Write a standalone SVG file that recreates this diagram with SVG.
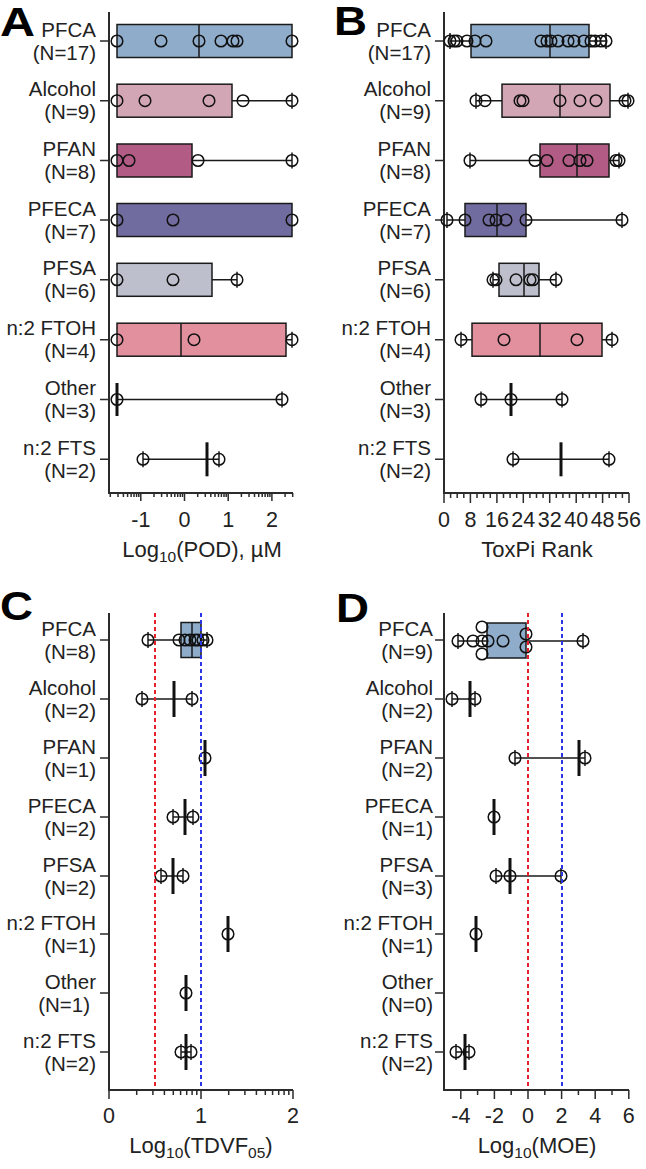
<svg xmlns="http://www.w3.org/2000/svg" width="646" height="1169" viewBox="0 0 646 1169">
<style>
.ax{stroke:#2b2b2b;stroke-width:2;fill:none}
.tk{stroke:#2b2b2b;stroke-width:1.5;fill:none}
.bx{stroke:#1a1a1a;stroke-width:1.5}
.md{stroke:#1a1a1a;stroke-width:1.5;fill:none}
.mt{stroke:#111;stroke-width:3;fill:none}
.wh{stroke:#1a1a1a;stroke-width:1.5;fill:none}
.pt circle{fill:none;stroke:#111;stroke-width:1.5}
text{font-family:"Liberation Sans",Arial,sans-serif;fill:#222}
.lb{font-size:20.5px;text-anchor:end}
.tl{font-size:21.5px;text-anchor:middle}
.tt{font-size:22px;text-anchor:middle}
.sb{font-size:15.5px}
.pl{font-size:40px;font-weight:bold;fill:#000}
.rd{stroke:#e8202a;stroke-width:2;stroke-dasharray:4 3;fill:none}
.bl{stroke:#2a35e6;stroke-width:2;stroke-dasharray:4 3;fill:none}
.c1{fill:#8fadcb}.c2{fill:#d3a6b5}.c3{fill:#b15b85}.c4{fill:#716c9f}.c5{fill:#bdc0cc}.c6{fill:#e2909e}
</style>

<!-- ================= PANEL A ================= -->
<g id="panelA">
<text class="pl" x="0" y="36" textLength="35" lengthAdjust="spacingAndGlyphs">A</text>
<g id="A-labels" class="lb">
<text x="96" y="36.5">PFCA<tspan x="96" dy="23">(N=17)</tspan></text>
<text x="96" y="96.2">Alcohol<tspan x="96" dy="23">(N=9)</tspan></text>
<text x="96" y="156">PFAN<tspan x="96" dy="23">(N=8)</tspan></text>
<text x="96" y="215.5">PFECA<tspan x="96" dy="23">(N=7)</tspan></text>
<text x="96" y="275.3">PFSA<tspan x="96" dy="23">(N=6)</tspan></text>
<text x="96" y="335.2">n:2 FTOH<tspan x="96" dy="23">(N=4)</tspan></text>
<text x="96" y="395">Other<tspan x="96" dy="23">(N=3)</tspan></text>
<text x="96" y="454.8">n:2 FTS<tspan x="96" dy="23">(N=2)</tspan></text>
</g>
<g id="A-axes">
<path class="ax" d="M109,12V493H293"/>
<path class="tk" d="M100,41H109M100,100.7H109M100,160.5H109M100,220H109M100,279.8H109M100,339.7H109M100,399.5H109M100,459.3H109"/>
<path class="tk" d="M140.8,493v8M184.5,493v8M228.2,493v8M271.9,493v8"/>
<path class="tk" d="M110.3,493v4M118,493v4M123.4,493v4M127.6,493v4M131.1,493v4M134,493v4M136.6,493v4M138.8,493v4M154,493v4M161.6,493v4M167.1,493v4M171.3,493v4M174.8,493v4M177.7,493v4M180.3,493v4M182.5,493v4M197.7,493v4M205.3,493v4M210.8,493v4M215,493v4M218.5,493v4M221.4,493v4M224,493v4M226.2,493v4M241.4,493v4M249,493v4M254.5,493v4M258.7,493v4M262.2,493v4M265.1,493v4M267.7,493v4M269.9,493v4M285.1,493v4M292.7,493v4"/>
<g class="tl"><text x="140.8" y="527">-1</text><text x="184.5" y="527">0</text><text x="228.2" y="527">1</text><text x="271.9" y="527">2</text></g>
<text class="tt" x="202" y="557">Log<tspan class="sb" dy="5">10</tspan><tspan dy="-5">(POD), µM</tspan></text>
</g>
<g id="A-data">
<g id="A-PFCA"><rect class="bx c1" x="117" y="24.5" width="175" height="33"/><path class="md" d="M199,24.5V57.5"/>
<g class="pt"><circle cx="117" cy="41" r="5.8"/><circle cx="161" cy="41" r="5.8"/><circle cx="199" cy="41" r="5.8"/><circle cx="221" cy="41" r="5.8"/><circle cx="233" cy="41" r="5.8"/><circle cx="237" cy="41" r="5.8"/><circle cx="292" cy="41" r="5.8"/></g></g>
<g id="A-Alcohol"><path class="wh" d="M232,100.7H292M292,92.7V108.7"/><rect class="bx c2" x="117" y="84.2" width="115" height="33"/>
<g class="pt"><circle cx="117" cy="100.7" r="5.8"/><circle cx="145" cy="100.7" r="5.8"/><circle cx="209" cy="100.7" r="5.8"/><circle cx="243" cy="100.7" r="5.8"/><circle cx="292" cy="100.7" r="5.8"/></g></g>
<g id="A-PFAN"><path class="wh" d="M192,160.5H292M292,152.5V168.5"/><rect class="bx c3" x="117" y="144" width="75" height="33"/>
<g class="pt"><circle cx="117" cy="160.5" r="5.8"/><circle cx="129" cy="160.5" r="5.8"/><circle cx="198" cy="160.5" r="5.8"/><circle cx="292" cy="160.5" r="5.8"/></g></g>
<g id="A-PFECA"><rect class="bx c4" x="117" y="203.5" width="175" height="33"/>
<g class="pt"><circle cx="117" cy="220" r="5.8"/><circle cx="173" cy="220" r="5.8"/><circle cx="292" cy="220" r="5.8"/></g></g>
<g id="A-PFSA"><path class="wh" d="M212,279.8H237M237,271.8V287.8"/><rect class="bx c5" x="117" y="263.3" width="95" height="33"/>
<g class="pt"><circle cx="117" cy="279.8" r="5.8"/><circle cx="173" cy="279.8" r="5.8"/><circle cx="237" cy="279.8" r="5.8"/></g></g>
<g id="A-FTOH"><path class="wh" d="M286,339.7H292M292,331.7V347.7"/><rect class="bx c6" x="117" y="323.2" width="169" height="33"/><path class="md" d="M181,323.2V356.2"/>
<g class="pt"><circle cx="117" cy="339.7" r="5.8"/><circle cx="194" cy="339.7" r="5.8"/><circle cx="292" cy="339.7" r="5.8"/></g></g>
<g id="A-Other"><path class="wh" d="M117,399.5H282M282,391.5V407.5"/><path class="mt" d="M117,383V416"/>
<g class="pt"><circle cx="117" cy="399.5" r="5.8"/><circle cx="282" cy="399.5" r="5.8"/></g></g>
<g id="A-FTS"><path class="wh" d="M143,459.3H219M143,451.3V467.3M219,451.3V467.3"/><path class="mt" d="M207,442.3V476.3"/>
<g class="pt"><circle cx="143" cy="459.3" r="5.8"/><circle cx="219" cy="459.3" r="5.8"/></g></g>
</g>
</g>

<!-- ================= PANEL B ================= -->
<g id="panelB">
<text class="pl" x="334" y="35" textLength="33" lengthAdjust="spacingAndGlyphs">B</text>
<g id="B-labels" class="lb">
<text x="431" y="36.5">PFCA<tspan x="431" dy="23">(N=17)</tspan></text>
<text x="431" y="96.2">Alcohol<tspan x="431" dy="23">(N=9)</tspan></text>
<text x="431" y="156">PFAN<tspan x="431" dy="23">(N=8)</tspan></text>
<text x="431" y="215.5">PFECA<tspan x="431" dy="23">(N=7)</tspan></text>
<text x="431" y="275.3">PFSA<tspan x="431" dy="23">(N=6)</tspan></text>
<text x="431" y="335.2">n:2 FTOH<tspan x="431" dy="23">(N=4)</tspan></text>
<text x="431" y="395">Other<tspan x="431" dy="23">(N=3)</tspan></text>
<text x="431" y="454.8">n:2 FTS<tspan x="431" dy="23">(N=2)</tspan></text>
</g>
<g id="B-axes">
<path class="ax" d="M444,12V493H629"/>
<path class="tk" d="M435,41H444M435,100.7H444M435,160.5H444M435,220H444M435,279.8H444M435,339.7H444M435,399.5H444M435,459.3H444"/>
<path class="tk" d="M444,493v10M470.4,493v10M496.9,493v10M523.3,493v10M549.7,493v10M576.2,493v10M602.6,493v10M629,493v10"/>
<path class="tk" d="M450.6,493v5M457.2,493v5M463.8,493v5M477,493v5M483.6,493v5M490.3,493v5M503.5,493v5M510.1,493v5M516.7,493v5M529.9,493v5M536.5,493v5M543.1,493v5M556.3,493v5M562.9,493v5M569.5,493v5M582.8,493v5M589.4,493v5M596,493v5M609.2,493v5M615.8,493v5M622.4,493v5"/>
<g class="tl"><text x="444" y="527">0</text><text x="470.4" y="527">8</text><text x="496.9" y="527">16</text><text x="523.3" y="527">24</text><text x="549.7" y="527">32</text><text x="576.2" y="527">40</text><text x="602.6" y="527">48</text><text x="629" y="527">56</text></g>
<text class="tt" x="537" y="557">ToxPi Rank</text>
</g>
<g id="B-data">
<g id="B-PFCA"><path class="wh" d="M450,41H471M589,41H606M450,33V49M606,33V49"/><rect class="bx c1" x="471" y="24.5" width="118" height="33"/><path class="md" d="M550,24.5V57.5"/>
<g class="pt"><circle cx="450" cy="41" r="5.8"/><circle cx="454" cy="41" r="5.8"/><circle cx="457" cy="41" r="5.8"/><circle cx="467" cy="41" r="5.8"/><circle cx="475" cy="41" r="5.8"/><circle cx="486" cy="41" r="5.8"/><circle cx="541" cy="41" r="5.8"/><circle cx="547" cy="41" r="5.8"/><circle cx="551" cy="41" r="5.8"/><circle cx="558" cy="41" r="5.8"/><circle cx="568" cy="41" r="5.8"/><circle cx="574" cy="41" r="5.8"/><circle cx="584" cy="41" r="5.8"/><circle cx="591" cy="41" r="5.8"/><circle cx="595" cy="41" r="5.8"/><circle cx="601" cy="41" r="5.8"/><circle cx="606" cy="41" r="5.8"/></g></g>
<g id="B-Alcohol"><path class="wh" d="M476,100.7H502M610,100.7H628M476,92.7V108.7M628,92.7V108.7"/><rect class="bx c2" x="502" y="84.2" width="108" height="33"/><path class="md" d="M560,84.2V117.2"/>
<g class="pt"><circle cx="476" cy="100.7" r="5.8"/><circle cx="485" cy="100.7" r="5.8"/><circle cx="520" cy="100.7" r="5.8"/><circle cx="523" cy="100.7" r="5.8"/><circle cx="560" cy="100.7" r="5.8"/><circle cx="580" cy="100.7" r="5.8"/><circle cx="596" cy="100.7" r="5.8"/><circle cx="625" cy="100.7" r="5.8"/><circle cx="628" cy="100.7" r="5.8"/></g></g>
<g id="B-PFAN"><path class="wh" d="M470,160.5H540M609,160.5H619M470,152.5V168.5M619,152.5V168.5"/><rect class="bx c3" x="540" y="144" width="69" height="33"/><path class="md" d="M577,144V177"/>
<g class="pt"><circle cx="470" cy="160.5" r="5.8"/><circle cx="535" cy="160.5" r="5.8"/><circle cx="547" cy="160.5" r="5.8"/><circle cx="569" cy="160.5" r="5.8"/><circle cx="580" cy="160.5" r="5.8"/><circle cx="587" cy="160.5" r="5.8"/><circle cx="616" cy="160.5" r="5.8"/><circle cx="619" cy="160.5" r="5.8"/></g></g>
<g id="B-PFECA"><path class="wh" d="M447,220H465M526,220H622M447,212V228M622,212V228"/><rect class="bx c4" x="465" y="203.5" width="61" height="33"/><path class="md" d="M497,203.5V236.5"/>
<g class="pt"><circle cx="447" cy="220" r="5.8"/><circle cx="465" cy="220" r="5.8"/><circle cx="489" cy="220" r="5.8"/><circle cx="496" cy="220" r="5.8"/><circle cx="506" cy="220" r="5.8"/><circle cx="526" cy="220" r="5.8"/><circle cx="622" cy="220" r="5.8"/></g></g>
<g id="B-PFSA"><path class="wh" d="M493,279.8H499M539,279.8H556M493,271.8V287.8M556,271.8V287.8"/><rect class="bx c5" x="499" y="263.3" width="40" height="33"/><path class="md" d="M524,263.3V296.3"/>
<g class="pt"><circle cx="493" cy="279.8" r="5.8"/><circle cx="496" cy="279.8" r="5.8"/><circle cx="516" cy="279.8" r="5.8"/><circle cx="530" cy="279.8" r="5.8"/><circle cx="533" cy="279.8" r="5.8"/><circle cx="556" cy="279.8" r="5.8"/></g></g>
<g id="B-FTOH"><path class="wh" d="M461,339.7H472M602,339.7H612M461,331.7V347.7M612,331.7V347.7"/><rect class="bx c6" x="472" y="323.2" width="130" height="33"/><path class="md" d="M540,323.2V356.2"/>
<g class="pt"><circle cx="461" cy="339.7" r="5.8"/><circle cx="504" cy="339.7" r="5.8"/><circle cx="577" cy="339.7" r="5.8"/><circle cx="612" cy="339.7" r="5.8"/></g></g>
<g id="B-Other"><path class="wh" d="M481,399.5H562M481,391.5V407.5M562,391.5V407.5"/><path class="mt" d="M511,383V416"/>
<g class="pt"><circle cx="481" cy="399.5" r="5.8"/><circle cx="511" cy="399.5" r="5.8"/><circle cx="562" cy="399.5" r="5.8"/></g></g>
<g id="B-FTS"><path class="wh" d="M513,459.3H609M513,451.3V467.3M609,451.3V467.3"/><path class="mt" d="M561,442.3V476.3"/>
<g class="pt"><circle cx="513" cy="459.3" r="5.8"/><circle cx="609" cy="459.3" r="5.8"/></g></g>
</g>
</g>

<!-- ================= PANEL C ================= -->
<g id="panelC">
<text class="pl" x="0" y="620" textLength="33" lengthAdjust="spacingAndGlyphs">C</text>
<g id="C-labels" class="lb">
<text x="96" y="635.5">PFCA<tspan x="96" dy="23">(N=8)</tspan></text>
<text x="96" y="694.5">Alcohol<tspan x="96" dy="23">(N=2)</tspan></text>
<text x="96" y="753.5">PFAN<tspan x="96" dy="23">(N=1)</tspan></text>
<text x="96" y="812.5">PFECA<tspan x="96" dy="23">(N=2)</tspan></text>
<text x="96" y="871.5">PFSA<tspan x="96" dy="23">(N=2)</tspan></text>
<text x="96" y="929.5">n:2 FTOH<tspan x="96" dy="23">(N=1)</tspan></text>
<text x="96" y="988.5">Other<tspan x="90" dy="23">(N=1)</tspan></text>
<text x="96" y="1047.5">n:2 FTS<tspan x="96" dy="23">(N=2)</tspan></text>
</g>
<g id="C-axes">
<path class="ax" d="M109,613V1090H293"/>
<path class="tk" d="M100,640H109M100,699H109M100,758H109M100,817H109M100,876H109M100,934H109M100,993H109M100,1052H109"/>
<path class="tk" d="M109,1090v9M201,1090v9M293,1090v9"/>
<path class="tk" d="M136.7,1090v5M152.9,1090v5M164.4,1090v5M173.3,1090v5M180.6,1090v5M186.7,1090v5M192.1,1090v5M196.8,1090v5M228.7,1090v5M244.9,1090v5M256.4,1090v5M265.3,1090v5M272.6,1090v5M278.7,1090v5M284.1,1090v5M288.8,1090v5"/>
<g class="tl"><text x="109" y="1123">0</text><text x="201" y="1123">1</text><text x="293" y="1123">2</text></g>
<text class="tt" x="201" y="1153">Log<tspan class="sb" dy="5">10</tspan><tspan dy="-5">(TDVF</tspan><tspan class="sb" dy="5">05</tspan><tspan dy="-5">)</tspan></text>
</g>
<g id="C-data">
<g id="C-PFCA"><path class="wh" d="M148,640H181M201,640H207M148,632V648M207,632V648"/><rect class="bx c1" x="181" y="622.5" width="20" height="35"/><path class="md" d="M192,622.5V657.5"/>
<g class="pt"><circle cx="148" cy="640" r="5.8"/><circle cx="179" cy="640" r="5.8"/><circle cx="185" cy="640" r="5.8"/><circle cx="190" cy="640" r="5.8"/><circle cx="195" cy="640" r="5.8"/><circle cx="198" cy="640" r="5.8"/><circle cx="203" cy="640" r="5.8"/><circle cx="207" cy="640" r="5.8"/></g></g>
<g id="C-Alcohol"><path class="wh" d="M142,699H192M142,691V707M192,691V707"/><path class="mt" d="M174,681V717"/>
<g class="pt"><circle cx="142" cy="699" r="5.8"/><circle cx="192" cy="699" r="5.8"/></g></g>
<g id="C-PFAN"><path class="mt" d="M205,740V776"/><g class="pt"><circle cx="205" cy="758" r="5.8"/></g></g>
<g id="C-PFECA"><path class="wh" d="M173,817H193M173,809V825M193,809V825"/><path class="mt" d="M185,799V835"/>
<g class="pt"><circle cx="173" cy="817" r="5.8"/><circle cx="193" cy="817" r="5.8"/></g></g>
<g id="C-PFSA"><path class="wh" d="M161,876H183M161,868V884M183,868V884"/><path class="mt" d="M173,858V894"/>
<g class="pt"><circle cx="161" cy="876" r="5.8"/><circle cx="183" cy="876" r="5.8"/></g></g>
<g id="C-FTOH"><path class="mt" d="M228,916V952"/><g class="pt"><circle cx="228" cy="934" r="5.8"/></g></g>
<g id="C-Other"><path class="mt" d="M186,975V1011"/><g class="pt"><circle cx="186" cy="993" r="5.8"/></g></g>
<g id="C-FTS"><path class="wh" d="M181,1052H191M181,1044V1060M191,1044V1060"/><path class="mt" d="M186,1034V1070"/>
<g class="pt"><circle cx="181" cy="1052" r="5.8"/><circle cx="191" cy="1052" r="5.8"/></g></g>
</g>
<g id="C-refs"><path class="rd" d="M155,613V1089"/><path class="bl" d="M201,613V1089"/></g>
</g>

<!-- ================= PANEL D ================= -->
<g id="panelD">
<text class="pl" x="336" y="622" textLength="33" lengthAdjust="spacingAndGlyphs">D</text>
<g id="D-labels" class="lb">
<text x="433" y="635.5">PFCA<tspan x="433" dy="23">(N=9)</tspan></text>
<text x="433" y="694.5">Alcohol<tspan x="433" dy="23">(N=2)</tspan></text>
<text x="433" y="753.5">PFAN<tspan x="433" dy="23">(N=2)</tspan></text>
<text x="433" y="812.5">PFECA<tspan x="433" dy="23">(N=1)</tspan></text>
<text x="433" y="871.5">PFSA<tspan x="433" dy="23">(N=3)</tspan></text>
<text x="433" y="929.5">n:2 FTOH<tspan x="433" dy="23">(N=1)</tspan></text>
<text x="433" y="988.5">Other<tspan x="433" dy="23">(N=0)</tspan></text>
<text x="433" y="1047.5">n:2 FTS<tspan x="433" dy="23">(N=2)</tspan></text>
</g>
<g id="D-axes">
<path class="ax" d="M444,613V1090H629"/>
<path class="tk" d="M435,640H444M435,699H444M435,758H444M435,817H444M435,876H444M435,934H444M435,993H444M435,1052H444"/>
<path class="tk" d="M460.8,1090v9M494.4,1090v9M528,1090v9M561.6,1090v9M595.2,1090v9M628.8,1090v9"/>
<path class="tk" d="M477.6,1090v5M511.2,1090v5M544.8,1090v5M578.4,1090v5M612,1090v5"/>
<g class="tl"><text x="460.8" y="1123">-4</text><text x="494.4" y="1123">-2</text><text x="528" y="1123">0</text><text x="561.6" y="1123">2</text><text x="595.2" y="1123">4</text><text x="628.8" y="1123">6</text></g>
<text class="tt" x="537" y="1153">Log<tspan class="sb" dy="5">10</tspan><tspan dy="-5">(MOE)</tspan></text>
</g>
<g id="D-data">
<g id="D-PFCA"><path class="wh" d="M458,641H487M526,641H583M458,633V649M583,633V649"/><rect class="bx c1" x="487" y="623" width="39" height="35"/>
<g class="pt"><circle cx="458" cy="641" r="5.8"/><circle cx="473" cy="641" r="5.8"/><circle cx="482" cy="627" r="5.8"/><circle cx="482" cy="641" r="5.8"/><circle cx="482" cy="654" r="5.8"/><circle cx="488" cy="641" r="5.8"/><circle cx="503" cy="641" r="5.8"/><circle cx="526" cy="634" r="5.8"/><circle cx="526" cy="647" r="5.8"/><circle cx="583" cy="641" r="5.8"/></g></g>
<g id="D-Alcohol"><path class="wh" d="M452,699H475M452,691V707M475,691V707"/><path class="mt" d="M470,681V717"/>
<g class="pt"><circle cx="452" cy="699" r="5.8"/><circle cx="475" cy="699" r="5.8"/></g></g>
<g id="D-PFAN"><path class="wh" d="M515,758H585M515,750V766M585,750V766"/><path class="mt" d="M579,740V776"/>
<g class="pt"><circle cx="515" cy="758" r="5.8"/><circle cx="585" cy="758" r="5.8"/></g></g>
<g id="D-PFECA"><path class="mt" d="M494,799V835"/><g class="pt"><circle cx="494" cy="817" r="5.8"/></g></g>
<g id="D-PFSA"><path class="wh" d="M496,876H561M496,868V884M561,868V884"/><path class="mt" d="M510,858V894"/>
<g class="pt"><circle cx="496" cy="876" r="5.8"/><circle cx="510" cy="876" r="5.8"/><circle cx="561" cy="876" r="5.8"/></g></g>
<g id="D-FTOH"><path class="mt" d="M476,916V952"/><g class="pt"><circle cx="476" cy="934" r="5.8"/></g></g>
<g id="D-FTS"><path class="wh" d="M456,1052H469M456,1044V1060M469,1044V1060"/><path class="mt" d="M465,1034V1070"/>
<g class="pt"><circle cx="456" cy="1052" r="5.8"/><circle cx="469" cy="1052" r="5.8"/></g></g>
</g>
<g id="D-refs"><path class="rd" d="M528,613V1089"/><path class="bl" d="M562,613V1089"/></g>
</g>
</svg>
